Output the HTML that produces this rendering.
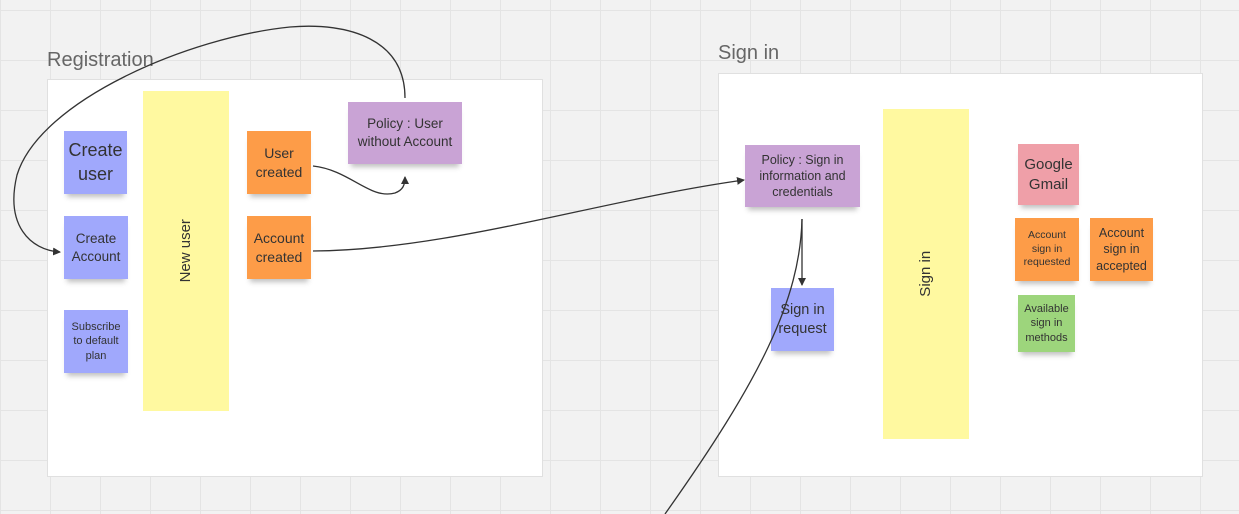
<!DOCTYPE html>
<html><head><meta charset="utf-8"><style>
body{margin:0;width:1239px;height:514px;overflow:hidden;position:relative;font-family:"Liberation Sans","DejaVu Sans",sans-serif;
background-color:#f2f2f2;
background-image:linear-gradient(#e4e4e4 1px,transparent 1px),linear-gradient(90deg,#e4e4e4 1px,transparent 1px);
background-size:50px 50px;background-position:0 10px,0 0;}
.f{position:absolute;background:#fff;border:1px solid #e0e0e0;}
.l{position:absolute;font-size:20px;color:#666;}
.s{position:absolute;display:flex;align-items:center;justify-content:center;text-align:center;color:#333;box-shadow:0 6px 5px -3px rgba(0,0,0,0.25);line-height:1.3;}
.b{background:#a0a8fc}.o{background:#fd9c48}.p{background:#c9a3d5}.y{background:#fff9a0;box-shadow:none}.r{background:#ef9fa8}.g{background:#9dd57c}
.rot{transform:rotate(-90deg);white-space:nowrap;font-size:15px}
</style></head><body>
<div class="l" style="left:47px;top:49px">Registration</div>
<div class="l" style="left:718px;top:42px">Sign in</div>
<div class="f" style="left:47px;top:79px;width:494px;height:396px"></div>
<div class="f" style="left:718px;top:73px;width:483px;height:402px"></div>

<div class="s b" style="left:64px;top:131px;width:63px;height:63px;font-size:18px">Create<br>user</div>
<div class="s b" style="left:64px;top:216px;width:64px;height:63px;font-size:13.5px">Create<br>Account</div>
<div class="s b" style="left:64px;top:310px;width:64px;height:63px;font-size:11px">Subscribe<br>to default<br>plan</div>
<div class="s y" style="left:143px;top:91px;width:86px;height:320px"><span class="rot">New user</span></div>
<div class="s o" style="left:247px;top:131px;width:64px;height:63px;font-size:14px">User<br>created</div>
<div class="s o" style="left:247px;top:216px;width:64px;height:63px;font-size:14px">Account<br>created</div>
<div class="s p" style="left:348px;top:102px;width:114px;height:62px;font-size:13.5px">Policy : User<br>without Account</div>

<div class="s p" style="left:745px;top:145px;width:115px;height:62px;font-size:12.5px">Policy : Sign in<br>information and<br>credentials</div>
<div class="s b" style="left:771px;top:288px;width:63px;height:63px;font-size:14.5px">Sign in<br>request</div>
<div class="s y" style="left:883px;top:109px;width:86px;height:330px"><span class="rot">Sign in</span></div>
<div class="s r" style="left:1018px;top:144px;width:61px;height:61px;font-size:15px">Google<br>Gmail</div>
<div class="s o" style="left:1015px;top:218px;width:64px;height:63px;font-size:10.5px">Account<br>sign in<br>requested</div>
<div class="s o" style="left:1090px;top:218px;width:63px;height:63px;font-size:12.5px">Account<br>sign in<br>accepted</div>
<div class="s g" style="left:1018px;top:295px;width:57px;height:57px;font-size:11px">Available<br>sign in<br>methods</div>

<svg style="position:absolute;left:0;top:0" width="1239" height="514">
<defs><marker id="a" markerWidth="8" markerHeight="8" refX="7" refY="4" orient="auto" markerUnits="userSpaceOnUse"><path d="M0,0 L8,4 L0,8 z" fill="#333"/></marker></defs>
<g fill="none" stroke="#333" stroke-width="1.3">
<path d="M405,98 C405,40 350,22 290,27 C190,37 40,100 17,175 C5,225 30,250 60,252" marker-end="url(#a)"/>
<path d="M313,166 C350,170 370,200 395,193 C403,190 405,185 405,177" marker-end="url(#a)"/>
<path d="M313,251 C450,250 600,200 744,180" marker-end="url(#a)"/>
<path d="M802,219 L802,285" marker-end="url(#a)"/>
<path d="M802,219 C800,300 760,380 665,514"/>
</g></svg>
</body></html>
